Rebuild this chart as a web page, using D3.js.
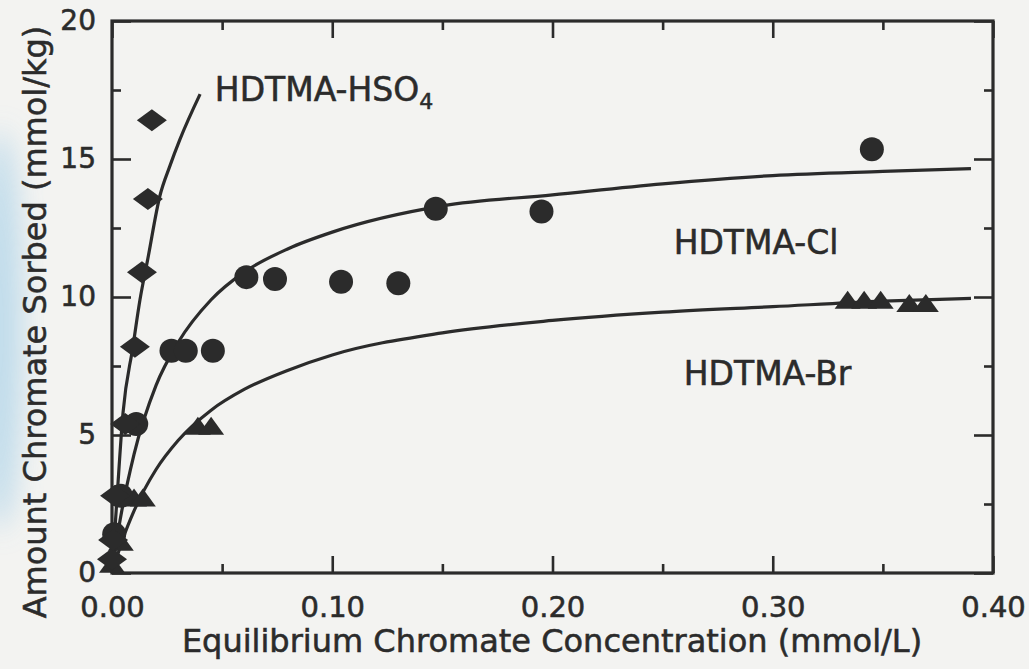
<!DOCTYPE html>
<html>
<head>
<meta charset="utf-8">
<script src="https://cdn.jsdelivr.net/npm/d3@7"></script>
<style>
  body { margin: 0; background: #f3f3f1; }
  text { font-family: "DejaVu Sans", sans-serif; fill: #2b2b2b; stroke: #2b2b2b; stroke-width: 0.55px; }
</style>
</head>
<body>
<div id="chart"></div>
<script>
const hso4X = [0.0, 0.0005, 0.0014, 0.006, 0.0104, 0.0136, 0.0163, 0.0181];
const hso4Y = [0.5, 1.2, 2.8, 5.4, 8.2, 10.9, 13.55, 16.4];

const clX = [0.001, 0.004, 0.011, 0.027, 0.0335, 0.0458, 0.061, 0.074, 0.104, 0.130, 0.147, 0.195, 0.345];
const clY = [1.4, 2.8, 5.4, 8.05, 8.05, 8.05, 10.72, 10.65, 10.55, 10.5, 13.2, 13.1, 15.35];

const brX = [0.0, 0.004, 0.010, 0.014, 0.039, 0.045, 0.334, 0.3415, 0.349, 0.362, 0.3695];
const brY = [0.3, 1.1, 2.7, 2.7, 5.3, 5.3, 9.86, 9.86, 9.86, 9.75, 9.75];

// fitted isotherm lines, sampled off the figure
const hso4CurveX = [0, 0.0023, 0.005, 0.0095, 0.0127, 0.0163, 0.0217, 0.0263, 0.0308, 0.040];
const hso4CurveY = [0, 2.75, 5.8, 8.2, 9.9, 11.4, 13.65, 14.75, 15.7, 17.35];
const clCurveX = [0, 0.003, 0.01, 0.02, 0.03, 0.045, 0.06, 0.08, 0.10, 0.15, 0.20, 0.25, 0.30, 0.35, 0.39];
const clCurveY = [0, 1.6, 4.3, 6.8, 8.35, 9.9, 10.9, 11.75, 12.35, 13.3, 13.7, 14.1, 14.4, 14.55, 14.65];
const brCurveX = [0, 0.005, 0.01, 0.02, 0.03, 0.045, 0.06, 0.08, 0.10, 0.15, 0.20, 0.25, 0.30, 0.35, 0.39];
const brCurveY = [0, 1.25, 2.25, 3.75, 4.8, 5.9, 6.65, 7.35, 7.9, 8.7, 9.15, 9.45, 9.65, 9.85, 9.95];

// ticks
const xMajor = [0, 0.1, 0.2, 0.3, 0.4];
const xMinor = [0.05, 0.15, 0.25, 0.35];
const yMajor = [0, 5, 10, 15, 20];
const yMinor = [2.5, 7.5, 12.5, 17.5];

const ink = "#2b2b2b";
const margin = {top: 21, right: 36, bottom: 96, left: 112};
const width = 1029 - margin.left - margin.right;
const height = 669 - margin.top - margin.bottom;

const svg = d3.select("#chart")
  .append("svg")
  .attr("width", 1029)
  .attr("height", 669);

// soft bluish scan stain on the left edge
const defs = svg.append("defs");
defs.append("filter")
  .attr("id", "blur")
  .attr("x", "-50%").attr("y", "-50%").attr("width", "200%").attr("height", "200%")
  .append("feGaussianBlur")
  .attr("stdDeviation", 14);
svg.append("ellipse")
  .attr("cx", 0).attr("cy", 330)
  .attr("rx", 22).attr("ry", 200)
  .attr("fill", "#b5d7ea")
  .attr("opacity", 0.85)
  .attr("filter", "url(#blur)");

const g = svg.append("g")
  .attr("transform", `translate(${margin.left},${margin.top})`);

const x = d3.scaleLinear().domain([0, 0.4]).range([0, width]);
const y = d3.scaleLinear().domain([0, 20]).range([height, 0]);

// axes: inward ticks on all four sides, labels only bottom and left
function styleAxis(sel) {
  sel.select(".domain").remove();
  sel.selectAll(".tick line").attr("stroke", ink).attr("stroke-width", 2.6);
}

g.append("g")
  .attr("transform", `translate(0,${height})`)
  .call(d3.axisBottom(x).tickValues(xMajor).tickSize(-17).tickPadding(23).tickFormat(d3.format(".2f")))
  .call(styleAxis)
  .selectAll("text").attr("font-size", 29).attr("font-family", null).attr("fill", ink);
g.append("g")
  .attr("transform", `translate(0,${height})`)
  .call(d3.axisBottom(x).tickValues(xMinor).tickSize(-9).tickFormat(""))
  .call(styleAxis);
g.append("g")
  .call(d3.axisTop(x).tickValues(xMajor).tickSize(-17).tickFormat(""))
  .call(styleAxis);
g.append("g")
  .call(d3.axisTop(x).tickValues(xMinor).tickSize(-9).tickFormat(""))
  .call(styleAxis);

g.append("g")
  .call(d3.axisLeft(y).tickValues(yMajor).tickSize(-19).tickPadding(16).tickFormat(d3.format("d")))
  .call(styleAxis)
  .selectAll("text").attr("font-size", 28).attr("font-family", null).attr("fill", ink);
g.append("g")
  .call(d3.axisLeft(y).tickValues(yMinor).tickSize(-9).tickFormat(""))
  .call(styleAxis);
g.append("g")
  .attr("transform", `translate(${width},0)`)
  .call(d3.axisRight(y).tickValues(yMajor).tickSize(-19).tickFormat(""))
  .call(styleAxis);
g.append("g")
  .attr("transform", `translate(${width},0)`)
  .call(d3.axisRight(y).tickValues(yMinor).tickSize(-9).tickFormat(""))
  .call(styleAxis);

// frame
g.append("rect")
  .attr("width", width)
  .attr("height", height)
  .attr("fill", "none")
  .attr("stroke", ink)
  .attr("stroke-width", 3.2);

// isotherm lines
const line = d3.line()
  .x(d => x(d[0]))
  .y(d => y(d[1]))
  .curve(d3.curveMonotoneX);

[[hso4CurveX, hso4CurveY], [clCurveX, clCurveY], [brCurveX, brCurveY]].forEach(([xs, ys]) => {
  g.append("path")
    .datum(xs.map((v, i) => [v, ys[i]]))
    .attr("fill", "none")
    .attr("stroke", ink)
    .attr("stroke-width", 3.2)
    .attr("d", line);
});

// markers
const diamond = "M-15,0L0,-11L15,0L0,11Z";
const triangle = "M-13,8L0,-10L13,8Z";

g.append("g").selectAll("path")
  .data(brX.map((v, i) => [v, brY[i]]))
  .join("path")
  .attr("transform", d => `translate(${x(d[0])},${y(d[1])})`)
  .attr("d", triangle)
  .attr("fill", ink);

g.append("g").selectAll("circle")
  .data(clX.map((v, i) => [v, clY[i]]))
  .join("circle")
  .attr("cx", d => x(d[0]))
  .attr("cy", d => y(d[1]))
  .attr("r", 12)
  .attr("fill", ink);

g.append("g").selectAll("path")
  .data(hso4X.map((v, i) => [v, hso4Y[i]]))
  .join("path")
  .attr("transform", d => `translate(${x(d[0])},${y(d[1])})`)
  .attr("d", diamond)
  .attr("fill", ink);

// series labels
const hso4Label = g.append("text")
  .attr("x", x(0.0467))
  .attr("y", y(17.1))
  .attr("font-size", 33);
hso4Label.append("tspan").text("HDTMA-HSO");
hso4Label.append("tspan").attr("font-size", 22).attr("dy", 8).text("4");

g.append("text")
  .attr("x", x(0.255))
  .attr("y", y(11.55))
  .attr("font-size", 33)
  .text("HDTMA-Cl");

g.append("text")
  .attr("x", x(0.2596))
  .attr("y", y(6.8))
  .attr("font-size", 33)
  .text("HDTMA-Br");

// axis titles
svg.append("text")
  .attr("x", 552)
  .attr("y", 652)
  .attr("text-anchor", "middle")
  .attr("font-size", 32)
  .text("Equilibrium Chromate Concentration (mmol/L)");

svg.append("text")
  .attr("transform", "translate(46,322) rotate(-90)")
  .attr("text-anchor", "middle")
  .attr("font-size", 32)
  .text("Amount Chromate Sorbed (mmol/kg)");
</script>
</body>
</html>
